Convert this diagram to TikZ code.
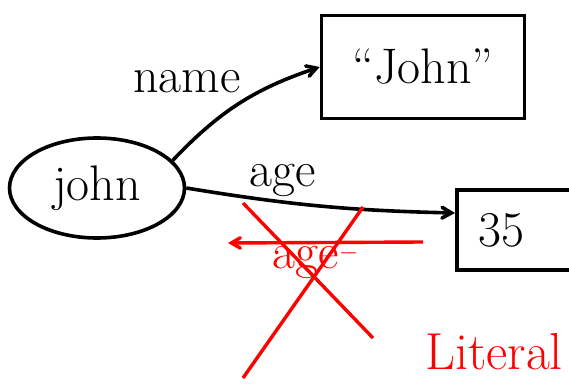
\documentclass[tikz,border=0pt]{standalone}
\usepackage{amsmath}
\usepackage{tikz}
\usetikzlibrary{arrows,shapes.geometric}

\begin{document}
\begin{tikzpicture}[x=1pt,y=-1pt,->,>=angle 60,line width=3.6pt,
                    font=\fontsize{50}{52}\selectfont]
      \tikzstyle{resource}=[draw,ellipse,minimum width=175pt,minimum height=100pt,inner sep=0pt]
      \tikzstyle{literal}=[draw,rectangle,minimum height=80pt,inner sep=0pt]
      \tikzstyle{crossed}=[red,line width=3.4pt]

      \useasboundingbox (0,0) rectangle (569,387);
      \clip (0,0) rectangle (569,387);

      \node[resource]  (john)  at (97,188)  {john};
      \node[literal,minimum width=203pt,minimum height=103pt]
                       (name)  at (423,67)  {``John''};
      \node[literal,anchor=west,text width=120pt,inner xsep=22pt]
                       (age)   at (455,230) {35};

      \path (john.20) edge [bend left=14]  node[pos=0.55,anchor=south east,inner sep=4pt] {name} (name.west)
            (john.east) edge [bend right=4] node[pos=0.35,above] {age} ([yshift=17pt]age.west);

      % inverse property, crossed out
      \coordinate (inv-from) at (423,242);
      \coordinate (inv-to)   at (228,243);
      \draw[crossed] (inv-from) -- node[below,pos=0.55,inner sep=1pt] {age$^-$} (inv-to);
      \draw[crossed,-] (243,203) -- (373,338);
      \draw[crossed,-] (363,207) -- (243,378);

      \node[red,anchor=east,font=\fontsize{52}{54}\selectfont] (lit) at (568,352) {Literal};

\end{tikzpicture}
\end{document}
